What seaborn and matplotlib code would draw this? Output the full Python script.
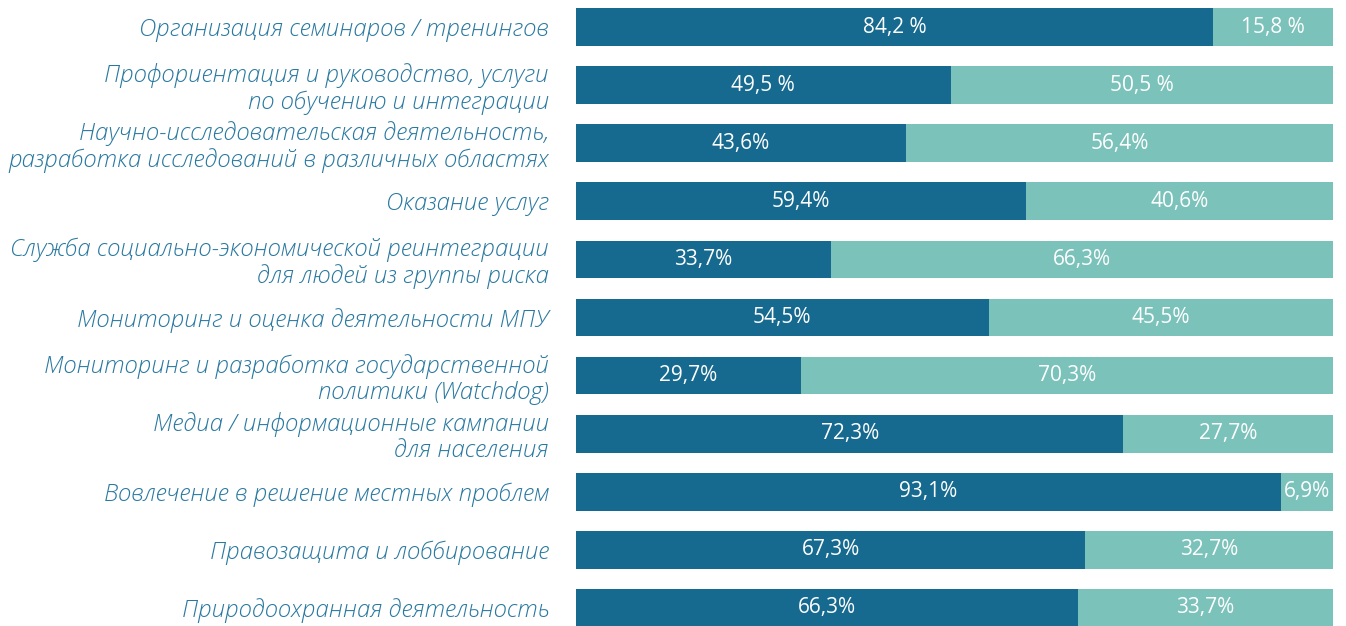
import matplotlib
matplotlib.use("Agg")
import matplotlib.pyplot as plt
import seaborn as sns
import pandas as pd

# data
categories = [
    "Организация семинаров / тренингов",
    "Профориентация и руководство, услуги\nпо обучению и интеграции",
    "Научно-исследовательская деятельность,\nразработка исследований в различных областях",
    "Оказание услуг",
    "Служба социально-экономической реинтеграции\nдля людей из группы риска",
    "Мониторинг и оценка деятельности МПУ",
    "Мониторинг и разработка государственной\nполитики (Watchdog)",
    "Медиа / информационные кампании\nдля населения",
    "Вовлечение в решение местных проблем",
    "Правозащита и лоббирование",
    "Природоохранная деятельность",
]
yes_vals = [84.2, 49.5, 43.6, 59.4, 33.7, 54.5, 29.7, 72.3, 93.1, 67.3, 66.3]
no_vals = [15.8, 50.5, 56.4, 40.6, 66.3, 45.5, 70.3, 27.7, 6.9, 32.7, 33.7]
yes_text = ["84,2 %", "49,5 %", "43,6%", "59,4%", "33,7%", "54,5%", "29,7%", "72,3%", "93,1%", "67,3%", "66,3%"]
no_text = ["15,8 %", "50,5 %", "56,4%", "40,6%", "66,3%", "45,5%", "70,3%", "27,7%", "6,9%", "32,7%", "33,7%"]

dark = "#166a8f"
light = "#7bc2bb"
label_color = "#2878a0"

sns.set_theme(style="white")
plt.rcParams['font.family'] = ['Open Sans', 'DejaVu Sans']

df = pd.DataFrame({"cat": categories, "yes": yes_vals, "no": no_vals})
df["total"] = df["yes"] + df["no"]

fig = plt.figure(figsize=(13.46, 6.26), dpi=100)
ax = fig.add_axes([576 / 1346, 0, (1333 - 576) / 1346, 1])

sns.barplot(data=df, x="total", y="cat", color=light, width=0.65, ax=ax,
            saturation=1, linewidth=0)
sns.barplot(data=df, x="yes", y="cat", color=dark, width=0.65, ax=ax,
            saturation=1, linewidth=0)

ax.set_xlim(0, 100)
ax.set_ylim(10.31, -0.465)
ax.set_xlabel("")
ax.set_ylabel("")
ax.set_xticks([])
ax.set_yticks(range(len(categories)))
ax.set_yticklabels(categories, fontstyle="italic", fontweight="light",
                   fontsize=17.3, color=label_color, linespacing=1.1)
ax.tick_params(axis="y", length=0, pad=19.5)
for s in ax.spines.values():
    s.set_visible(False)

for i, (y, n) in enumerate(zip(yes_vals, no_vals)):
    ax.text(y / 2, i, yes_text[i], ha="center", va="center", color="white", fontsize=15)
    ax.text(y + n / 2, i, no_text[i], ha="center", va="center", color="white", fontsize=15)

fig.savefig("out.png", dpi=100)
